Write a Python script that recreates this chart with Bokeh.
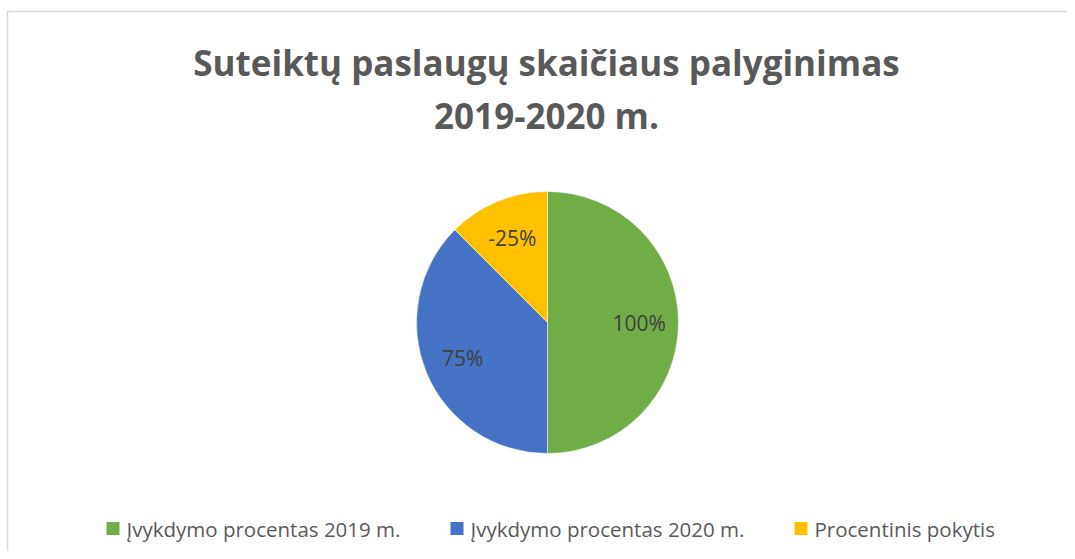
import math
from bokeh.plotting import figure
from bokeh.models import Range1d
from bokeh.core.properties import value
from bokeh.embed import file_html
from bokeh.resources import INLINE

# ---- data ----
categories = ["Įvykdymo procentas 2019 m.", "Įvykdymo procentas 2020 m.", "Procentinis pokytis"]
values = [100, 75, -25]
labels = ["100%", "75%", "-25%"]
colors = ["#70AD47", "#4472C4", "#FFC000"]
title_lines = ["Suteiktų paslaugų skaičiaus palyginimas", "2019-2020 m."]

W, H = 1067, 551
p = figure(width=W, height=H, output_backend="svg", toolbar_location=None,
           x_range=Range1d(0, W), y_range=Range1d(0, H), min_border=0,
           outline_line_color=None)
p.axis.visible = False
p.grid.visible = False
p.background_fill_color = "white"
p.border_fill_color = "white"

# chart border
p.quad(left=[7], right=[W + 5], bottom=[-5], top=[H - 11], fill_color=None,
       line_color="#d9d9d9", line_width=1.5)

# title
FONT = value("Open Sans")
p.text(x=[546, 546], y=[H - 62, H - 115], text=title_lines, text_align="center",
       text_baseline="middle", text_font=FONT, text_font_style="bold",
       text_font_size="35px", text_color="#595959")

# pie (clockwise from 12 o'clock, by absolute share)
cx, cy, r = 547, H - 322, 131
total = sum(abs(v) for v in values)
start = math.pi / 2
for v, lab, col in zip(values, labels, colors):
    sweep = 2 * math.pi * abs(v) / total
    end = start - sweep
    p.wedge(x=[cx], y=[cy], radius=r, start_angle=end, end_angle=start,
            fill_color=col, line_color="white", line_width=0.5)
    mid = (start + end) / 2
    lr = 0.7 * r
    p.text(x=[cx + lr * math.cos(mid)], y=[cy + lr * math.sin(mid)], text=[lab],
           text_align="center", text_baseline="middle", text_font=FONT,
           text_font_size="21px", text_color="#404040")
    start = end

# legend
leg_x = [106, 450, 794]
leg_y = H - 528
for lx, cat, col in zip(leg_x, categories, colors):
    p.rect(x=[lx + 6.5], y=[leg_y], width=13, height=13, fill_color=col, line_color=None)
    p.text(x=[lx + 20], y=[leg_y], text=[cat], text_align="left", text_baseline="middle",
           text_font=FONT, text_font_size="20.5px", text_color="#595959")

open("out.html", "w").write(file_html(p, INLINE))
